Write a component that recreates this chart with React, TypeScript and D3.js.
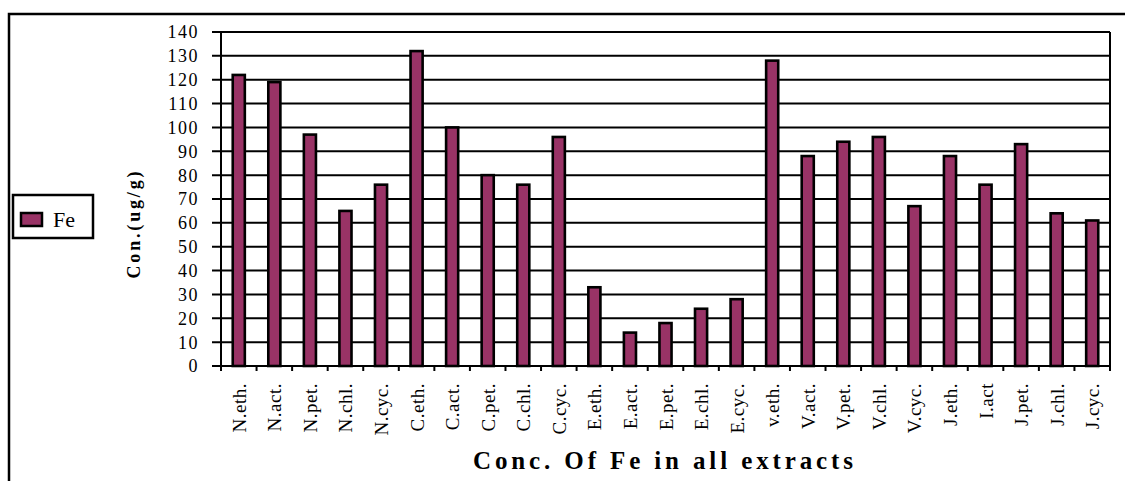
import React from "react";
import * as d3 from "d3";

const categories = [
  "N.eth.", "N.act.", "N.pet.", "N.chl.", "N.cyc.",
  "C.eth.", "C.act.", "C.pet.", "C.chl.", "C.cyc.",
  "E.eth.", "E.act.", "E.pet.", "E.chl.", "E.cyc.",
  "v.eth.", "V.act.", "V.pet.", "V.chl.", "V.cyc.",
  "J.eth.", "I.act", "J.pet.", "J.chl.", "J.cyc.",
];
const feValues = [
  122, 119, 97, 65, 76,
  132, 100, 80, 76, 96,
  33, 14, 18, 24, 28,
  128, 88, 94, 96, 67,
  88, 76, 93, 64, 61,
];
const yTicks = [0, 10, 20, 30, 40, 50, 60, 70, 80, 90, 100, 110, 120, 130, 140];
const seriesName = "Fe";
const xTitle = "Conc. Of Fe in all extracts";
const yTitle = "Con.(ug/g)";

const W = 1125;
const H = 481;
const FILL = "#993366";
const SERIF = "'Liberation Serif', 'DejaVu Serif', serif";

export default function App() {
  const left = 221, right = 1110, top = 32, bottom = 366;
  const x = d3.scaleBand<string>().domain(categories).range([left, right]).paddingInner(0.66).paddingOuter(0.33);
  const y = d3.scaleLinear().domain([0, 140]).range([bottom, top]);
  const step = x.step();
  const boundaries = d3.range(categories.length + 1).map((i) => left + i * step);

  return (
    <svg width={W} height={H} style={{ position: "absolute", left: 0, top: 0, background: "#fff" }}>
      <rect x={0} y={0} width={W} height={H} fill="#fff" />
      {/* outer frame */}
      <rect x={9} y={14} width={1300} height={600} fill="none" stroke="#000" strokeWidth={2.5} />

      {/* gridlines */}
      {yTicks.map((t) => (
        <line key={"g" + t} x1={left - 9} x2={right} y1={y(t)} y2={y(t)} stroke="#000" strokeWidth={2} />
      ))}
      {/* right border */}
      <line x1={right} x2={right} y1={top} y2={bottom} stroke="#000" strokeWidth={2} />
      {/* left axis */}
      <line x1={left} x2={left} y1={top - 1} y2={bottom + 1} stroke="#000" strokeWidth={2} />
      {/* x ticks */}
      {boundaries.map((bx, i) => (
        <line key={"xt" + i} x1={bx} x2={bx} y1={bottom} y2={bottom + 5} stroke="#000" strokeWidth={2} />
      ))}

      {/* bars */}
      {categories.map((c, i) => (
        <rect
          key={c}
          x={x(c)!}
          y={y(feValues[i])}
          width={x.bandwidth()}
          height={bottom - y(feValues[i])}
          fill={FILL}
          stroke="#000"
          strokeWidth={2.6}
        />
      ))}

      {/* y tick labels */}
      {yTicks.map((t) => (
        <text
          key={"yl" + t}
          x={199}
          y={y(t)}
          dy="0.36em"
          textAnchor="end"
          fontFamily={SERIF}
          fontSize={18}
          letterSpacing={1.5}
          fill="#000"
        >
          {t}
        </text>
      ))}

      {/* x tick labels */}
      {categories.map((c) => {
        const cx = x(c)! + x.bandwidth() / 2 + 7;
        const cy = 383;
        return (
          <text
            key={"xl" + c}
            transform={`translate(${cx},${cy}) rotate(-90)`}
            textAnchor="end"
            fontFamily={SERIF}
            fontSize={19}
            letterSpacing={0.5}
            fill="#000"
          >
            {c}
          </text>
        );
      })}

      {/* y axis title */}
      <text
        transform={`translate(140,225) rotate(-90)`}
        textAnchor="middle"
        fontFamily={SERIF}
        fontWeight="bold"
        fontSize={18}
        textLength={107}
        lengthAdjust="spacing"
        fill="#000"
      >
        {yTitle}
      </text>

      {/* x axis title */}
      <text
        x={663}
        y={469}
        textAnchor="middle"
        fontFamily={SERIF}
        fontWeight="bold"
        fontSize={25}
        textLength={380}
        lengthAdjust="spacing"
        fill="#000"
      >
        {xTitle}
      </text>

      {/* legend */}
      <rect x={13} y={195} width={80} height={43} fill="#fff" stroke="#000" strokeWidth={2.5} />
      <rect x={21} y={213} width={21} height={13} fill={FILL} stroke="#000" strokeWidth={2.5} />
      <text x={53} y={227} fontFamily={SERIF} fontSize={22} fill="#000">
        {seriesName}
      </text>
    </svg>
  );
}
